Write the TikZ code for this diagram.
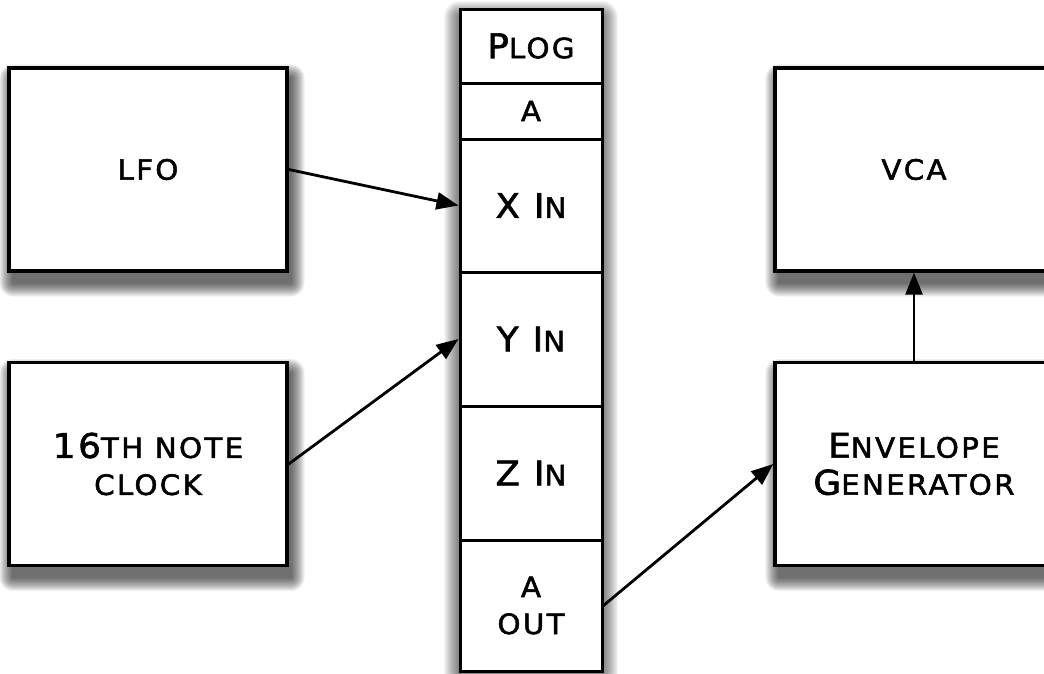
\documentclass[tikz,border=0pt]{standalone}
\usepackage{fontspec}
\usetikzlibrary{arrows.meta,backgrounds}
\newfontfamily\cpfont[FakeStretch=1.05,LetterSpace=8,FakeBold=1.8]{DejaVu Sans}
\newcommand\BL[1]{{\fontsize{34}{37}\selectfont #1}}
\newcommand\softshadow[1]{%
  \foreach \i in {1,...,14}{%
    \fill[black,opacity=0.055,rounded corners=\i pt]
      ([shift={(-\i pt+6pt,\i pt-12pt)}]#1.north west) rectangle
      ([shift={(\i pt+2pt,-\i pt-10pt)}]#1.south east);}}
\begin{document}
\begin{tikzpicture}[x=1pt,y=-1pt,
  box/.style={draw=black,line width=3.4pt,fill=white,minimum width=278pt,minimum height=203pt,
    inner sep=0pt,align=center,font=\cpfont\fontsize{28}{37}\selectfont},
  cell/.style={draw=black,line width=3pt,fill=white,minimum width=142pt,inner sep=0pt,
    align=center,font=\cpfont\fontsize{28}{37}\selectfont},
  conn/.style={line width=2.8pt,-{Triangle[length=22pt,width=17pt]}}]
\useasboundingbox (0,0) rectangle (1044,673);
% boxes
\node[box] (lfo) at (148,169.5) {LFO};
\node[box] (clk) at (148,464) {\BL{16}TH NOTE\\CLOCK};
\node[box] (vca) at (914,169.5) {VCA};
\node[box] (env) at (914,464) {\BL{E}NVELOPE\\\BL{G}ENERATOR};
% column
\coordinate (colnw) at (460,9);
\coordinate (colse) at (602,672);
\node[cell,minimum height=74pt] (plog) at (531,46) {\BL{P}LOG};
\node[cell,minimum height=56pt] (a) at (531,111) {A};
\node[cell,minimum height=133pt] (xin) at (531,205.5) {\BL{X I}N};
\node[cell,minimum height=134pt] (yin) at (531,339) {\BL{Y I}N};
\node[cell,minimum height=134pt] (zin) at (531,473) {\BL{Z I}N};
\node[cell,minimum height=131pt] (aout) at (531,605.5) {A\\OUT};
% connectors
\draw[conn] (lfo.east) -- (xin.west);
\draw[conn] (clk.east) -- (yin.west);
\draw[conn] (aout.east) -- (env.west);
\draw[conn] (env.north) -- (vca.south);
\begin{scope}[on background layer]
  \fill[white] (0,0) rectangle (1044,673);
  \softshadow{lfo}
  \softshadow{clk}
  \softshadow{vca}
  \softshadow{env}
  \foreach \i in {1,...,16}{%
    \fill[black,opacity=0.04,rounded corners=\i pt]
      ([shift={(-\i pt,\i pt-8pt)}]colnw) rectangle ([shift={(\i pt,-\i pt-10pt)}]colse);}
\end{scope}
\end{tikzpicture}
\end{document}
